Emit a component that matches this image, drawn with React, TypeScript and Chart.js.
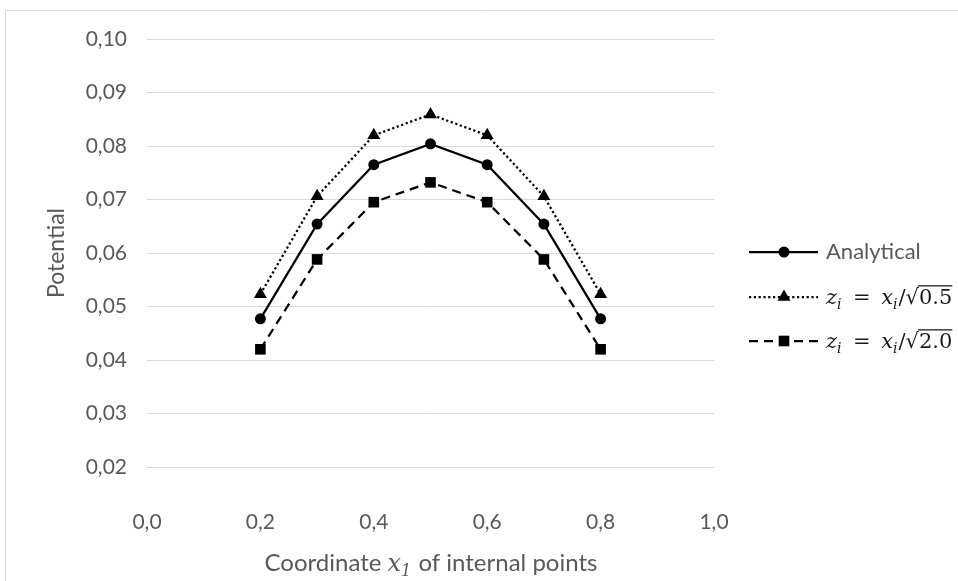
import React, { useEffect, useRef } from "react";
import { Chart, registerables } from "chart.js";

Chart.register(...registerables);

const xValues = [0.2, 0.3, 0.4, 0.5, 0.6, 0.7, 0.8];
const analytical = [0.0477, 0.0654, 0.0765, 0.0804, 0.0765, 0.0654, 0.0477];
const sqrtHalf = [0.0523, 0.0706, 0.082, 0.0859, 0.082, 0.0706, 0.0523];
const sqrtTwo = [0.042, 0.0588, 0.0695, 0.0732, 0.0695, 0.0588, 0.042];
const seriesLabels = ["Analytical", "z_i = x_i/√0.5", "z_i = x_i/√2.0"];
const yTitle = "Potential";
const xTitle = "Coordinate x_1 of internal points";

const SANS = "Lato";
const SERIF = "'DejaVu Serif'";
const GREY = "#595959";
const TICK_FS = 21;
const TITLE_FS = 23;
const LEGEND_FS = 22;

type Seg = { t: string; kind: "sans" | "it" | "sub" | "rm"; over?: boolean };

function parseRich(label: string, plainKind: "sans" | "rm"): Seg[] {
  const segs: Seg[] = [];
  let over = false;
  let buf = "";
  const flush = () => {
    if (buf) segs.push({ t: buf, kind: plainKind, over });
    buf = "";
  };
  for (let i = 0; i < label.length; i++) {
    const c = label[i];
    if (/[a-z]/i.test(c) && label[i + 1] === "_") {
      flush();
      segs.push({ t: c, kind: "it", over });
      segs.push({ t: label[i + 2], kind: "sub", over });
      i += 2;
      continue;
    }
    if (c === "√") {
      flush();
      segs.push({ t: "√", kind: "rm" });
      over = true;
      continue;
    }
    if (c === "=" && plainKind === "rm") {
      flush();
      segs.push({ t: "\u2002=\u2002", kind: "rm" });
      if (label[i + 1] === " ") i++;
      continue;
    }
    if (c === " " && plainKind === "rm" && label[i + 1] === "=") continue;
    buf += c;
  }
  flush();
  return segs;
}

function fontFor(kind: string, size: number) {
  if (kind === "sans") return `${size}px ${SANS}`;
  if (kind === "it") return `italic ${size}px ${SERIF}`;
  if (kind === "sub") return `italic ${Math.round(size * 0.68)}px ${SERIF}`;
  return `${size}px ${SERIF}`;
}

function drawRich(ctx: CanvasRenderingContext2D, segs: Seg[], x: number, y: number, size: number, align: "left" | "center") {
  ctx.textBaseline = "alphabetic";
  ctx.textAlign = "left";
  const widths = segs.map((s) => {
    ctx.font = fontFor(s.kind, size);
    return ctx.measureText(s.t).width + (s.kind === "sub" ? 1 : 0);
  });
  const total = widths.reduce((a, b) => a + b, 0);
  let cx = align === "center" ? x - total / 2 : x;
  segs.forEach((s, i) => {
    ctx.font = fontFor(s.kind, size);
    const dy = s.kind === "sub" ? size * 0.22 : 0;
    ctx.fillText(s.t, cx, y + dy);
    if (s.over) {
      ctx.save();
      ctx.lineWidth = 1.3;
      ctx.strokeStyle = ctx.fillStyle as string;
      ctx.beginPath();
      ctx.moveTo(cx - 1, y - size * 0.86);
      ctx.lineTo(cx + widths[i], y - size * 0.86);
      ctx.stroke();
      ctx.restore();
    }
    cx += widths[i];
  });
}

function drawMarker(ctx: CanvasRenderingContext2D, style: string, x: number, y: number, r: number) {
  ctx.beginPath();
  if (style === "circle") {
    ctx.arc(x, y, r, 0, Math.PI * 2);
  } else if (style === "triangle") {
    const w = r * Math.sin(Math.PI / 3);
    ctx.moveTo(x, y - r);
    ctx.lineTo(x + w, y + r / 2);
    ctx.lineTo(x - w, y + r / 2);
    ctx.closePath();
  } else {
    const s = Math.SQRT1_2 * r;
    ctx.rect(x - s, y - s, 2 * s, 2 * s);
  }
  ctx.fill();
}

const legendRows = [252, 297, 341];

const overlayPlugin = {
  id: "overlay",
  afterDraw(chart: any) {
    const ctx: CanvasRenderingContext2D = chart.ctx;
    ctx.save();
    // outer chart border
    ctx.strokeStyle = "#d9d9d9";
    ctx.lineWidth = 1;
    ctx.beginPath();
    ctx.moveTo(5.5, 581);
    ctx.lineTo(5.5, 10.5);
    ctx.lineTo(958, 10.5);
    ctx.stroke();

    // legend
    chart.data.datasets.forEach((ds: any, i: number) => {
      const y = legendRows[i];
      ctx.strokeStyle = ds.borderColor;
      ctx.lineWidth = ds.borderWidth;
      ctx.setLineDash(ds.borderDash || []);
      ctx.beginPath();
      ctx.moveTo(749, y);
      ctx.lineTo(818, y);
      ctx.stroke();
      ctx.setLineDash([]);
      ctx.fillStyle = "#000";
      drawMarker(ctx, ds.pointStyle, 784, y, ds.pointRadius);
      const label: string = ds.label;
      if (label.includes("_")) {
        ctx.fillStyle = "#1a1a1a";
        drawRich(ctx, parseRich(label, "rm"), 826, y + 7, 21, "left");
      } else {
        ctx.fillStyle = GREY;
        drawRich(ctx, [{ t: label, kind: "sans" }], 826, y + 7, LEGEND_FS, "left");
      }
    });

    // x-axis title
    ctx.fillStyle = GREY;
    const segs = parseRich(xTitle, "sans");
    drawRich(ctx, segs, 431, 571, TITLE_FS + 1, "center");
    ctx.restore();
  },
};

export default function App() {
  const ref = useRef<HTMLCanvasElement | null>(null);
  useEffect(() => {
    if (!ref.current) return;
    const mk = (vals: number[]) => vals.map((v, i) => ({ x: xValues[i], y: v }));
    const chart = new Chart(ref.current, {
      type: "line",
      data: {
        datasets: [
          {
            label: seriesLabels[0],
            data: mk(analytical),
            borderColor: "#000",
            backgroundColor: "#000",
            borderWidth: 2.25,
            pointStyle: "circle",
            pointRadius: 5.5,
            pointBackgroundColor: "#000",
            pointBorderWidth: 0,
          },
          {
            label: seriesLabels[1],
            data: mk(sqrtHalf),
            borderColor: "#000",
            backgroundColor: "#000",
            borderWidth: 2.25,
            borderDash: [2.2, 2.6],
            pointStyle: "triangle",
            pointRadius: 7.5,
            pointBackgroundColor: "#000",
            pointBorderWidth: 0,
          },
          {
            label: seriesLabels[2],
            data: mk(sqrtTwo),
            borderColor: "#000",
            backgroundColor: "#000",
            borderWidth: 2.25,
            borderDash: [9, 6],
            pointStyle: "rect",
            pointRadius: 7.5,
            pointBackgroundColor: "#000",
            pointBorderWidth: 0,
          },
        ] as any,
      },
      options: {
        animation: false,
        responsive: false,
        maintainAspectRatio: false,
        layout: { padding: { left: 0, top: 39, right: 244, bottom: 0 } },
        plugins: { legend: { display: false }, tooltip: { enabled: false } },
        elements: { line: { tension: 0 } },
        scales: {
          x: {
            type: "linear",
            min: 0,
            max: 1,
            afterFit: (s: any) => {
              s.height = 114;
            },
            ticks: {
              stepSize: 0.2,
              padding: 43,
              color: GREY,
              font: { family: SANS, size: TICK_FS },
              callback: (v: any) => Number(v).toFixed(1).replace(".", ","),
            },
            grid: { display: false, drawTicks: false },
            border: { display: false },
          },
          y: {
            min: 0.02,
            max: 0.1,
            afterFit: (s: any) => {
              s.width = 147;
            },
            ticks: {
              stepSize: 0.01,
              padding: 20,
              color: GREY,
              font: { family: SANS, size: TICK_FS },
              callback: (v: any) => Number(v).toFixed(2).replace(".", ","),
            },
            grid: { color: "#d9d9d9", lineWidth: 1, drawTicks: false },
            border: { display: false },
            title: {
              display: true,
              text: yTitle,
              color: GREY,
              font: { family: SANS, size: TITLE_FS },
              padding: { top: 43, bottom: 0 },
            },
          },
        },
      },
      plugins: [overlayPlugin],
    });
    return () => chart.destroy();
  }, []);
  return (
    <div style={{ position: "fixed", left: 0, top: 0, width: 958, height: 581, background: "#fff" }}>
      <canvas ref={ref} width={958} height={581} style={{ width: 958, height: 581, display: "block" }} />
    </div>
  );
}
